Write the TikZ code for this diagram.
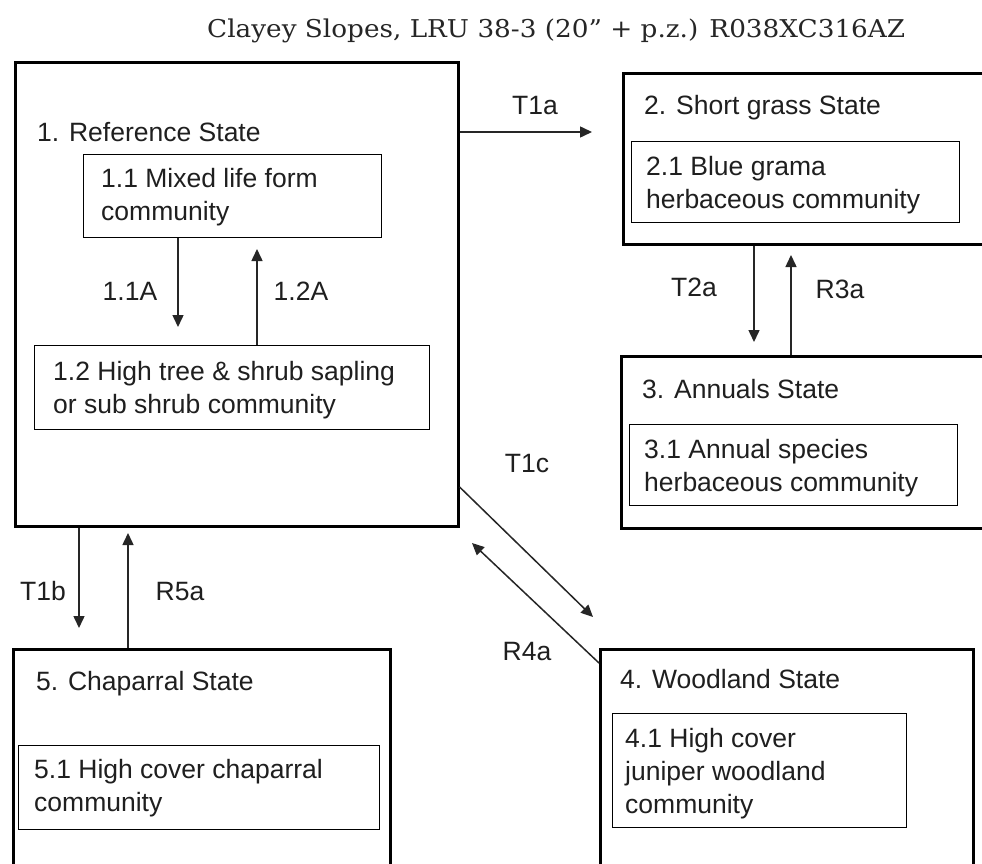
\documentclass[tikz,border=0pt]{standalone}
\usepackage{fontspec}
\usepackage{graphicx}
\usetikzlibrary{arrows.meta}
\newfontfamily\bodyfont{Liberation Sans}
\newfontfamily\titlefont{DejaVu Serif}
\begin{document}
\begin{tikzpicture}[x=1pt,y=-1pt,
  outerbox/.style={draw, line width=2.6pt, inner sep=0pt, anchor=north west},
  innerbox/.style={draw, line width=1.3pt, inner sep=0pt, anchor=north west},
  txt/.style={font=\bodyfont\fontsize{26.5}{33}\selectfont, anchor=base west, inner sep=0pt, text=black!88},
  lab/.style={font=\bodyfont\fontsize{26.5}{33}\selectfont, anchor=base, inner sep=0pt, text=black!88},
  arr/.style={line width=1.5pt, draw=black!85, -{Triangle[length=12pt,width=11pt]}}]
\useasboundingbox (0,0) rectangle (982,864);
\clip (0,0) rectangle (982,864);
\fill[white] (0,0) rectangle (982,864);

% title
\node[anchor=base west, inner sep=0pt, text=black!85] (title) at (207,38)
  {\resizebox{698pt}{\height}{\titlefont\fontsize{24.5}{30}\selectfont Clayey Slopes, LRU 38-3 (20” + p.z.) R038XC316AZ}};

% boxes
\node[outerbox, minimum width=443pt, minimum height=464pt] (s1) at (14,61) {};
\node[innerbox, minimum width=298pt, minimum height=83pt] (s11) at (83,154) {};
\node[innerbox, minimum width=395pt, minimum height=84pt] (s12) at (34,345) {};
\node[outerbox, minimum width=400pt, minimum height=171pt] (s2) at (622,72) {};
\node[innerbox, minimum width=328pt, minimum height=81pt] (s21) at (631,141) {};
\node[outerbox, minimum width=400pt, minimum height=172pt] (s3) at (620,355) {};
\node[innerbox, minimum width=328pt, minimum height=81pt] (s31) at (629,424) {};
\node[outerbox, minimum width=373pt, minimum height=260pt] (s4) at (599,648) {};
\node[innerbox, minimum width=294pt, minimum height=114pt] (s41) at (612,713) {};
\node[outerbox, minimum width=377pt, minimum height=260pt] (s5) at (12,648) {};
\node[innerbox, minimum width=361pt, minimum height=84pt] (s51) at (18,745) {};

% texts
\node[txt] (t1) at (37,142) {1. Reference State};
\node[txt] (t11a) at (101,187) {1.1 Mixed life form};
\node[txt] (t11b) at (101,220) {community};
\node[txt] (t12a) at (53,380) {1.2 High tree \& shrub sapling};
\node[txt] (t12b) at (53,413) {or sub shrub community};
\node[txt] (t2) at (644,115) {2. Short grass State};
\node[txt] (t21a) at (646,175) {2.1 Blue grama};
\node[txt] (t21b) at (646,208) {herbaceous community};
\node[txt] (t3) at (642,398) {3. Annuals State};
\node[txt] (t31a) at (644,458) {3.1 Annual species};
\node[txt] (t31b) at (644,491) {herbaceous community};
\node[txt] (t4) at (620,688) {4. Woodland State};
\node[txt] (t41a) at (625,747) {4.1 High cover};
\node[txt] (t41b) at (625,780) {juniper woodland};
\node[txt] (t41c) at (625,813) {community};
\node[txt] (t5) at (36,690) {5. Chaparral State};
\node[txt] (t51a) at (34,778) {5.1 High cover chaparral};
\node[txt] (t51b) at (34,811) {community};

% labels
\node[lab] (l11A) at (130,300) {1.1A};
\node[lab] (l12A) at (301,300) {1.2A};
\node[lab] (lT1a) at (535,115) {T1a};
\node[lab] (lT2a) at (694,296) {T2a};
\node[lab] (lR3a) at (840,298) {R3a};
\node[lab] (lT1c) at (527,472) {T1c};
\node[lab] (lR4a) at (527,660) {R4a};
\node[lab] (lT1b) at (43,600) {T1b};
\node[lab] (lR5a) at (180,600) {R5a};

% connector end points
\coordinate (c11a) at (178,327);
\coordinate (c12a) at (257,249);
\coordinate (ct1a) at (592,132);
\coordinate (ct2a) at (754,342);
\coordinate (cr3a) at (791,255);
\coordinate (ct1b) at (79,628);
\coordinate (cr5a) at (128,533);
\coordinate (ct1cs) at (458,487);
\coordinate (ct1c) at (593,617);
\coordinate (cr4as) at (598,663);
\coordinate (cr4a) at (472,543);

% connectors
\draw[arr] (s11.south -| c11a) -- (c11a);
\draw[arr] (s12.north -| c12a) -- (c12a);
\draw[arr] (s1.east |- ct1a) -- (ct1a);
\draw[arr] (s2.south -| ct2a) -- (ct2a);
\draw[arr] (s3.north -| cr3a) -- (cr3a);
\draw[arr] (s1.south -| ct1b) -- (ct1b);
\draw[arr] (s5.north -| cr5a) -- (cr5a);
\draw[arr] (s1.east |- ct1cs) -- (ct1c);
\draw[arr] (s4.west |- cr4as) -- (cr4a);
\end{tikzpicture}
\end{document}
